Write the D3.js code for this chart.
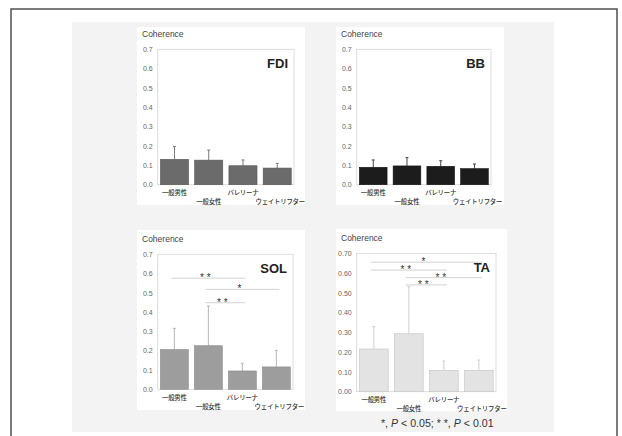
<!DOCTYPE html>
<html>
<head>
	<meta charset="utf-8" />
	<style>
		body { margin: 0; background: #fff; }
		svg { display: block; font-family: 'Liberation Sans', Arial, sans-serif; }
		.tick text { fill: #666; font-size: 7px; }
		.ylab { fill: #444; font-size: 8.5px; }
		.ptitle { fill: #222; font-size: 13px; font-weight: bold; }
		.xlab { fill: #333; font-size: 6.4px; font-weight: 500; letter-spacing: -0.2px; font-family: 'Noto Sans CJK JP', sans-serif; }
		.star { fill: #333; font-size: 10px; }
	</style>
</head>
<body>
<script src="https://d3js.org/d3.v7.min.js"></script>
<script>

//// data ////
var categories = ['一般男性', '一般女性', 'バレリーナ', 'ウェイトリフター'];
var yTicks = [0, 0.1, 0.2, 0.3, 0.4, 0.5, 0.6, 0.7];

var fdiMean = [0.131, 0.127, 0.098, 0.086];
var fdiSD   = [0.066, 0.052, 0.030, 0.024];
var bbMean  = [0.090, 0.097, 0.095, 0.083];
var bbSD    = [0.038, 0.043, 0.029, 0.024];
var solMean = [0.206, 0.226, 0.095, 0.116];
var solSD   = [0.110, 0.206, 0.040, 0.086];
var taMean  = [0.216, 0.293, 0.108, 0.108];
var taSD    = [0.113, 0.238, 0.047, 0.052];

// significance brackets: [from bar, to bar, height, label]
var solSig = [[0, 2, 0.576, '* *'], [1, 3, 0.518, '*'], [1, 2, 0.449, '* *']];
var taSig  = [[0, 3, 0.655, '*'], [0, 2, 0.615, '* *'], [1, 3, 0.577, '* *'], [1, 2, 0.540, '* *']];

var W = 622, H = 436;
var svg = d3.select('body').append('svg').attr('width', W).attr('height', H);

// outer border and grey sheet
svg.append('rect').attr('x', 11).attr('y', 9).attr('width', 606).attr('height', 520)
	.attr('fill', '#fff').attr('stroke', '#444').attr('stroke-width', 1.4);
svg.append('rect').attr('x', 72).attr('y', 22).attr('width', 482).attr('height', 410)
	.attr('fill', '#f3f3f3');

// one panel per muscle
var panels = [
	{name: 'FDI', mean: fdiMean, sd: fdiSD, sig: [], box: [137, 27, 168, 178], plot: [157.7, 49.3, 294, 184.7],
		fill: '#6b6b6b', edge: '#555', err: '#7a7a7a', fmt: '.1f'},
	{name: 'BB', mean: bbMean, sd: bbSD, sig: [], box: [336, 27, 168, 178], plot: [356.7, 49.3, 491, 184.7],
		fill: '#1c1c1c', edge: '#111', err: '#444', fmt: '.1f'},
	{name: 'SOL', mean: solMean, sd: solSD, sig: solSig, box: [137, 230, 168, 180], plot: [157.7, 254.3, 293, 389.3],
		fill: '#9d9d9d', edge: '#8a8a8a', err: '#b5b5b5', fmt: '.1f'},
	{name: 'TA', mean: taMean, sd: taSD, sig: taSig, box: [336, 229, 171, 182], plot: [356.7, 253.3, 496, 391.7],
		fill: '#e3e3e3', edge: '#c4c4c4', err: '#d0d0d0', fmt: '.2f'}
];

panels.forEach(function (p) {
	var g = svg.append('g');
	var L = p.plot[0], T = p.plot[1], R = p.plot[2], B = p.plot[3];

	g.append('rect').attr('x', p.box[0]).attr('y', p.box[1])
		.attr('width', p.box[2]).attr('height', p.box[3]).attr('fill', '#fff');

	var x = d3.scaleBand().domain(categories).range([L, R])
		.paddingInner(0.18).paddingOuter(0.08);
	var y = d3.scaleLinear().domain([0, 0.7]).range([B, T]);

	// frame
	g.append('rect').attr('x', L).attr('y', T).attr('width', R - L).attr('height', B - T)
		.attr('fill', 'none').attr('stroke', '#d4d4d4').attr('stroke-width', 0.8);

	// y axis labels
	var ax = g.append('g').attr('transform', 'translate(' + (L - 2) + ',0)')
		.call(d3.axisLeft(y).tickValues(yTicks).tickSize(0).tickPadding(3).tickFormat(d3.format(p.fmt)));
	ax.select('.domain').remove();

	g.append('text').attr('class', 'ylab').attr('x', p.box[0] + 5).attr('y', T - 12).text('Coherence');
	g.append('text').attr('class', 'ptitle').attr('x', R - 6).attr('y', T + 19)
		.attr('text-anchor', 'end').text(p.name);

	var rows = categories.map(function (c, i) { return {c: c, m: p.mean[i], s: p.sd[i], i: i}; });

	// error bars (upper only)
	g.selectAll('.err').data(rows).enter().append('line')
		.attr('x1', function (d) { return x(d.c) + x.bandwidth() / 2; })
		.attr('x2', function (d) { return x(d.c) + x.bandwidth() / 2; })
		.attr('y1', function (d) { return y(d.m); })
		.attr('y2', function (d) { return y(d.m + d.s); })
		.attr('stroke', p.err).attr('stroke-width', 1);
	g.selectAll('.cap').data(rows).enter().append('line')
		.attr('x1', function (d) { return x(d.c) + x.bandwidth() / 2 - 1.5; })
		.attr('x2', function (d) { return x(d.c) + x.bandwidth() / 2 + 1.5; })
		.attr('y1', function (d) { return y(d.m + d.s); })
		.attr('y2', function (d) { return y(d.m + d.s); })
		.attr('stroke', p.err).attr('stroke-width', 1);

	// bars
	g.selectAll('.bar').data(rows).enter().append('rect')
		.attr('x', function (d) { return x(d.c); })
		.attr('y', function (d) { return y(d.m); })
		.attr('width', x.bandwidth())
		.attr('height', function (d) { return y(0) - y(d.m); })
		.attr('fill', p.fill).attr('stroke', p.edge).attr('stroke-width', 0.6);

	// category labels, staggered
	g.selectAll('.xlab').data(rows).enter().append('text')
		.attr('class', 'xlab')
		.attr('x', function (d) { return x(d.c) + x.bandwidth() / 2 + (d.i === 3 ? 3 : 0); })
		.attr('y', function (d) { return B + (d.i % 2 === 0 ? 10.5 : 19.5); })
		.attr('text-anchor', 'middle')
		.text(function (d) { return d.c; });

	// significance brackets
	p.sig.forEach(function (s) {
		var x1 = x(categories[s[0]]) + x.bandwidth() / 2 - 3;
		var x2 = x(categories[s[1]]) + x.bandwidth() / 2 + 3;
		g.append('line').attr('x1', x1).attr('x2', x2).attr('y1', y(s[2])).attr('y2', y(s[2]))
			.attr('stroke', '#c8c8c8').attr('stroke-width', 0.8);
		g.append('text').attr('class', 'star').attr('x', (x1 + x2) / 2 - 3).attr('y', y(s[2]) + 3)
			.attr('text-anchor', 'middle').text(s[3]);
	});
});

// footnote
var fn = svg.append('text').attr('x', 381).attr('y', 427).attr('fill', '#333')
	.style('font-size', '10.6px');
fn.append('tspan').text('*, ');
fn.append('tspan').style('font-style', 'italic').text('P');
fn.append('tspan').text(' < 0.05; * *, ');
fn.append('tspan').style('font-style', 'italic').text('P');
fn.append('tspan').text(' < 0.01');

</script>
</body>
</html>
